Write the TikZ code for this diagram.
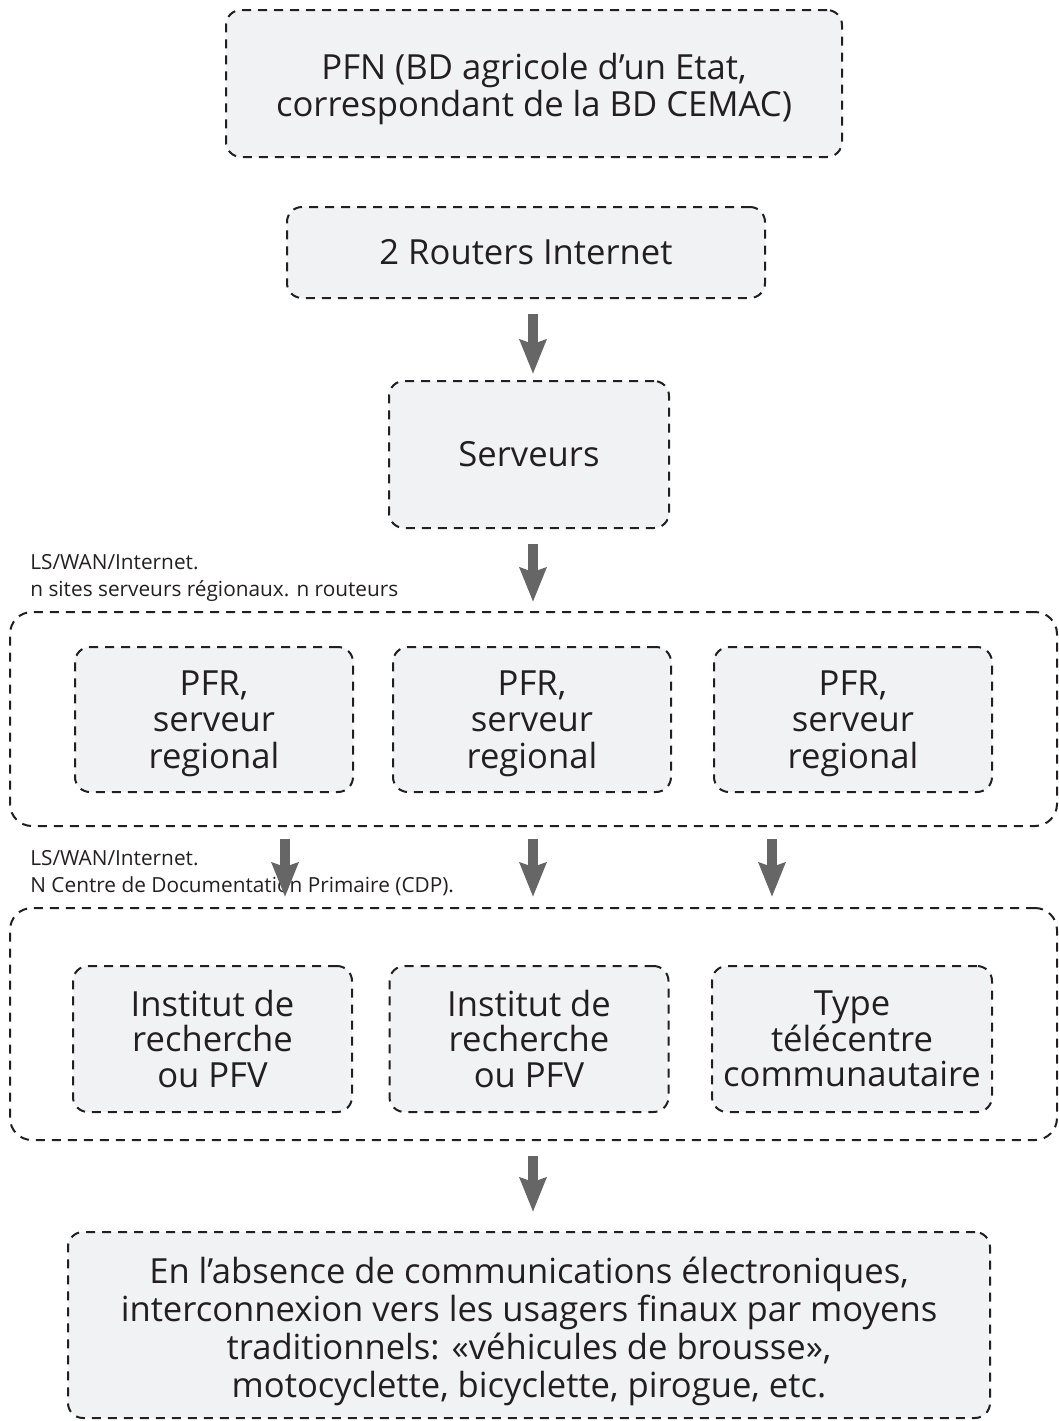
\documentclass[tikz,border=0pt]{standalone}
\usepackage{fontspec}
\setmainfont{Open Sans}
\usetikzlibrary{arrows.meta}
\definecolor{boxfill}{HTML}{F1F2F4}
\definecolor{ink}{HTML}{231F20}
\definecolor{arrgray}{HTML}{666666}
\newcommand{\lowerby}[1]{\rule{0pt}{#1}}
\tikzset{
  dashbox/.style={draw=ink, line width=1pt, dash pattern=on 4.5pt off 3.5pt,
    rounded corners=7.5pt, fill=boxfill, align=center, inner sep=0pt,
    text=ink, font=\fontsize{17.3}{17.2}\selectfont},
  groupbox/.style={draw=ink, line width=1pt, dash pattern=on 4.5pt off 3.5pt,
    rounded corners=11pt, inner sep=0pt},
  netlabel/.style={anchor=north west, align=left, inner sep=0pt, text=ink,
    font=\fontsize{10.4}{13.5}\selectfont},
  bigarrow/.style={draw=arrgray, line width=5pt,
    -{Stealth[length=17pt,width=13pt,inset=2pt,fill=arrgray]}}
}
\begin{document}
\begin{tikzpicture}[x=0.5pt,y=-0.5pt]
\useasboundingbox (0,0) rectangle (1059,1421);

\node[dashbox, minimum width=308pt, minimum height=73.5pt] (pfn) at (534,83.5)
  {\lowerby{18.5pt}PFN (BD agricole d’un Etat,\\correspondant de la BD CEMAC)};
\node[dashbox, minimum width=239pt, minimum height=45.5pt] (rout) at (526,252.5)
  {2 Routers Internet};
\node[dashbox, minimum width=140pt, minimum height=73.5pt] (serv) at (529,454.5)
  {Serveurs};

\node[netlabel] (lab1) at (30,554) {LS/WAN/Internet.\\n sites serveurs régionaux. n routeurs};

\node[groupbox, minimum width=523.5pt, minimum height=107pt] (g1) at (533.5,719) {};
\node[dashbox, minimum width=139pt, minimum height=72.5pt, font=\fontsize{17.3}{18.2}\selectfont] (pfr1) at (214,719.5)
  {\lowerby{16.5pt}PFR,\\serveur\\regional};
\node[dashbox, minimum width=139pt, minimum height=72.5pt, font=\fontsize{17.3}{18.2}\selectfont] (pfr2) at (532,719.5)
  {\lowerby{16.5pt}PFR,\\serveur\\regional};
\node[dashbox, minimum width=139pt, minimum height=72.5pt, font=\fontsize{17.3}{18.2}\selectfont] (pfr3) at (853,719.5)
  {\lowerby{16.5pt}PFR,\\serveur\\regional};

\node[netlabel] (lab2) at (30,850) {LS/WAN/Internet.\\N Centre de Documentation Primaire (CDP).};

\node[groupbox, minimum width=523.5pt, minimum height=116pt] (g2) at (533.5,1024) {};
\node[dashbox, minimum width=139.5pt, minimum height=73pt, font=\fontsize{17.3}{17.8}\selectfont] (ins1) at (212.5,1039)
  {Institut de\\recherche\\ou PFV};
\node[dashbox, minimum width=139.5pt, minimum height=73pt, font=\fontsize{17.3}{17.8}\selectfont] (ins2) at (529,1039)
  {Institut de\\recherche\\ou PFV};
\node[dashbox, minimum width=140pt, minimum height=73pt, font=\fontsize{17.3}{17.8}\selectfont] (tele) at (852,1039)
  {Type\\télécentre\\communautaire};

\node[dashbox, minimum width=461pt, minimum height=93pt, font=\fontsize{17.3}{19}\selectfont] (fin) at (529,1325)
  {\lowerby{20pt}En l’absence de communications électroniques,\\interconnexion vers les usagers finaux par moyens\\traditionnels: «véhicules de brousse»,\\motocyclette, bicyclette, pirogue, etc.};

\draw[bigarrow] ([xshift=3.5pt,yshift=-7.5pt]rout.south) -- ([xshift=2pt,yshift=3pt]serv.north);
\draw[bigarrow] ([xshift=2pt,yshift=-7.5pt]serv.south) -- ([xshift=-0.25pt,yshift=4.5pt]g1.north);
\draw[bigarrow] ([xshift=-124.25pt,yshift=-6pt]g1.south) -- ([xshift=-124.25pt,yshift=5pt]g2.north);
\draw[bigarrow] ([xshift=-0.25pt,yshift=-6pt]g1.south) -- ([xshift=-0.25pt,yshift=5pt]g2.north);
\draw[bigarrow] ([xshift=119.25pt,yshift=-6pt]g1.south) -- ([xshift=119.25pt,yshift=5pt]g2.north);
\draw[bigarrow] ([xshift=-0.25pt,yshift=-7.5pt]g2.south) -- ([xshift=2pt,yshift=9.5pt]fin.north);
\end{tikzpicture}
\end{document}
